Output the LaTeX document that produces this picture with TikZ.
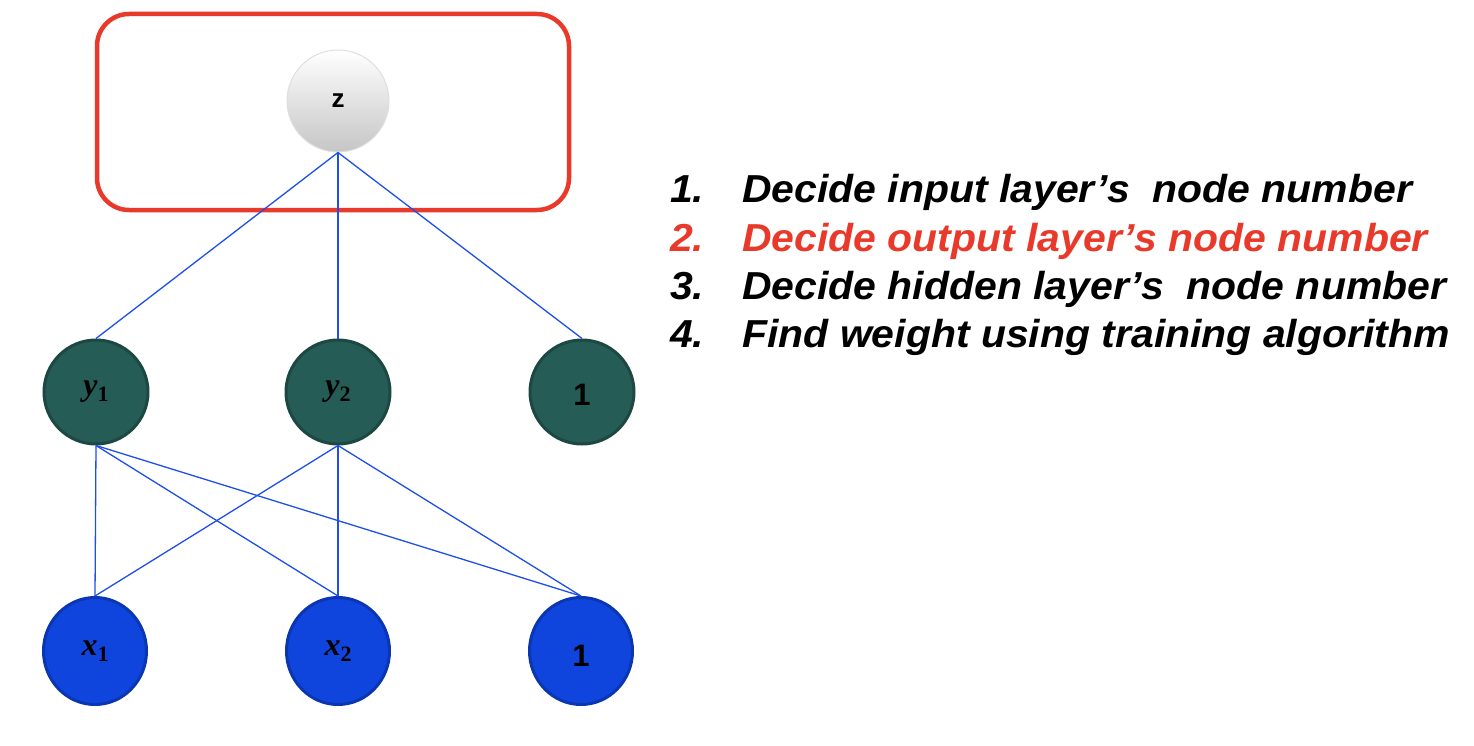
\documentclass[tikz,border=0pt]{standalone}
\usepackage{fontspec}
\setmainfont{Liberation Sans}
\newfontfamily\mserif{Liberation Serif}
\usetikzlibrary{shapes.geometric}
\definecolor{boxred}{HTML}{E8392A}
\definecolor{tealfill}{HTML}{265C56}
\definecolor{tealdark}{HTML}{1D4842}
\definecolor{inblue}{HTML}{0F45DD}
\definecolor{inbluedark}{HTML}{0A36B2}
\definecolor{edgeblue}{HTML}{1E4FE8}
\newcommand{\wideit}[1]{\scalebox{1.05}[1]{#1}}
\newcommand{\varsub}[2]{{\mserif\bfseries\itshape\fontsize{32}{34}\selectfont #1}\raisebox{-6pt}{\mserif\bfseries\fontsize{22}{24}\selectfont #2}}
\newcommand{\lowone}[1]{\raisebox{-#1}[\height][\depth]{\fontsize{31}{33}\selectfont 1}}
\tikzset{
  hid/.style={circle, draw=tealdark, fill=tealfill, line width=3pt, minimum size=104pt, inner sep=0pt, font=\bfseries\fontsize{26}{28}\selectfont},
  inp/.style={ellipse, draw=inbluedark, fill=inblue, line width=3pt, minimum width=103pt, minimum height=107pt, inner sep=0pt, font=\bfseries\fontsize{26}{28}\selectfont},
  outn/.style={circle, draw=gray!25, line width=1pt, top color=white, bottom color=gray!45, minimum size=102pt, inner sep=0pt, font=\bfseries\fontsize{26}{28}\selectfont},
  wire/.style={draw=edgeblue, line width=1.3pt},
  item/.style={anchor=base west, inner sep=0pt, font=\bfseries\itshape\fontsize{39}{44}\selectfont},
}
\begin{document}
\begin{tikzpicture}[x=1pt,y=-1pt]
\useasboundingbox (0,0) rectangle (1474,746);
\draw[boxred, line width=4.5pt, rounded corners=32pt] (97,14) rectangle (569,210);
\node[outn] (z) at (338,101) {z};
\node[hid] (y1) at (96,392) {\varsub{y}{1}};
\node[hid] (y2) at (338,392) {\varsub{y}{2}};
\node[hid] (h1) at (582,392) {\lowone{3pt}};
\node[inp] (x1) at (95,651) {\varsub{x}{1}};
\node[inp] (x2) at (338,651) {\varsub{x}{2}};
\node[inp] (i1) at (581,651) {\lowone{5pt}};
\draw[wire] (z.south) -- (y1.north);
\draw[wire] (z.south) -- (y2.north);
\draw[wire] (z.south) -- (h1.north);
\draw[wire] (y1.south) -- (x1.north);
\draw[wire] (y1.south) -- (x2.north);
\draw[wire] (y1.south) -- (i1.north);
\draw[wire] (y2.south) -- (x1.north);
\draw[wire] (y2.south) -- (x2.north);
\draw[wire] (y2.south) -- (i1.north);
\node[item] (n1) at (670,202) {\wideit{1.}};
\node[item] (t1) at (742,202) {\wideit{Decide input layer’s\ \ node number}};
\node[item, text=boxred] (n2) at (670,251) {\wideit{2.}};
\node[item, text=boxred] (t2) at (742,251) {\wideit{Decide output layer’s node number}};
\node[item] (n3) at (670,299) {\wideit{3.}};
\node[item] (t3) at (742,299) {\wideit{Decide hidden layer’s\ \ node number}};
\node[item] (n4) at (670,347) {\wideit{4.}};
\node[item] (t4) at (742,347) {\wideit{Find weight using training algorithm}};
\end{tikzpicture}
\end{document}
